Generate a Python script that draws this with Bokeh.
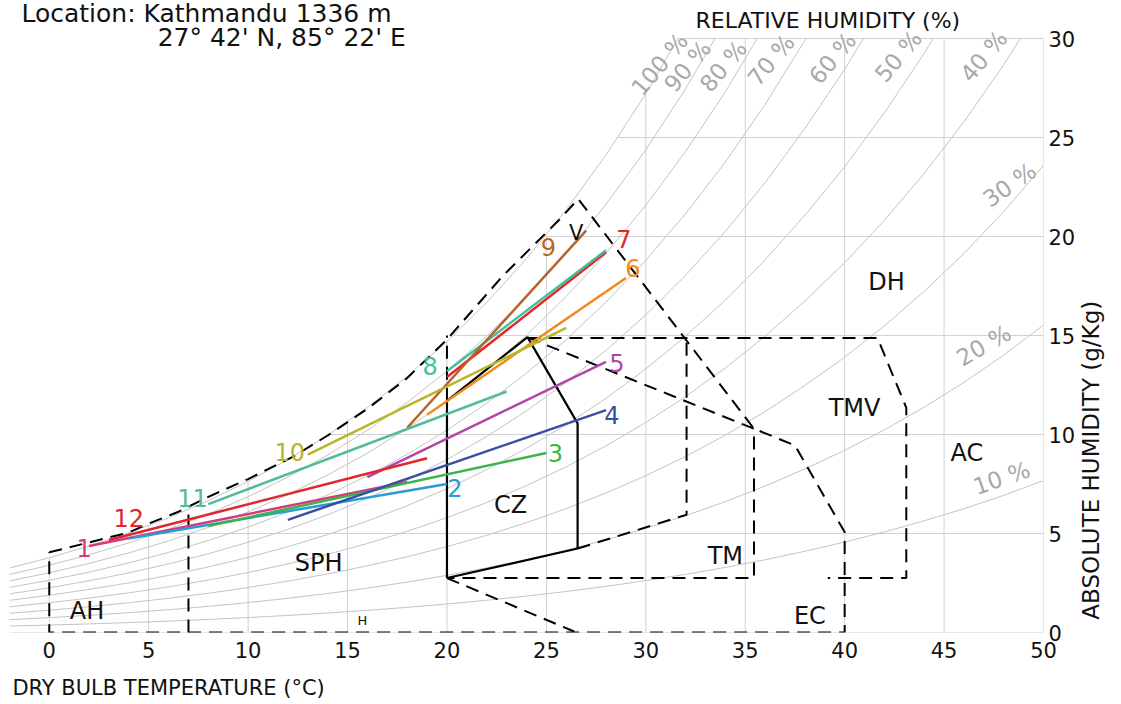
import math
import numpy as np
from bokeh.plotting import figure
from bokeh.models import Range1d, FixedTicker, Label, LinearAxis
from bokeh.embed import file_html
from bokeh.resources import INLINE

FONT = "DejaVu Sans"

# ---------------- data ----------------
# saturation vapour pressure table (kPa) used for the relative humidity curves
SAT_T = [-2, 0, 2, 4, 6, 8, 10, 12, 14, 16, 18, 20, 22, 24, 26, 28, 30, 32, 34,
         36, 38, 40, 42, 44, 46, 48, 50]
SAT_P_KPA = [0.5277, 0.6113, 0.7060, 0.8135, 0.9353, 1.0729, 1.2281, 1.4027,
             1.5989, 1.8187, 2.0647, 2.3392, 2.6452, 2.9856, 3.3637, 3.7828,
             4.2467, 4.7598, 5.3265, 5.9515, 6.6399, 7.3837, 8.2054, 9.1030,
             10.086, 11.162, 12.344]
PRESSURE_KPA = 101.325
RH_LEVELS = [10, 20, 30, 40, 50, 60, 70, 80, 90, 100]

# RH curve labels: text, x, y, angle (deg)
RH_LABEL_TEXT = ["100 %", "90 %", "80 %", "70 %", "60 %", "50 %", "40 %", "30 %", "20 %", "10 %"]
RH_LABEL_X = [30.7, 32.1, 33.9, 36.3, 39.4, 42.7, 47.0, 48.3, 47.0, 47.9]
RH_LABEL_Y = [28.7, 28.6, 28.6, 28.9, 29.0, 29.1, 29.1, 22.6, 14.5, 7.8]
RH_LABEL_ANGLE = [50, 50, 50, 50, 50, 50, 50, 35, 30, 19]

# monthly lines (Tmin, w) -> (Tmax, w)
MONTHS = ["1", "2", "3", "4", "5", "6", "7", "8", "9", "10", "11", "12"]
T_MIN = [2, 4, 8, 12, 16, 19, 20, 20, 18, 13, 8, 3]
W_TMIN = [4.37, 4.75, 5.38, 5.69, 7.85, 11.0, 12.9, 13.2, 10.34, 8.98, 6.48, 4.67]
T_MAX = [18, 20, 25, 28, 28, 29, 28, 28, 27, 26, 23, 19]
W_TMAX = [7.6, 7.5, 9.07, 11.23, 13.67, 17.9, 19.2, 19.3, 20.3, 15.38, 12.17, 8.8]
MONTH_COLORS = ["#d63a7a", "#2b9bd8", "#3cb44b", "#3a4fa3", "#b146a8", "#f08a1c",
                "#e5262b", "#45bf9b", "#b5652a", "#b7b52a", "#52bb9c", "#e0262e"]
MONTH_LABEL_X = [1.75, 20.4, 25.45, 28.3, 28.55, 29.35, 28.9, 19.15, 25.1, 12.1, 7.2, 4.0]
MONTH_LABEL_Y = [4.25, 7.3, 9.05, 11.0, 13.6, 18.4, 19.85, 13.45, 19.45, 9.1, 6.8, 5.8]

# zone boundaries
ENV_T = [0, 2, 4, 5, 6.5, 8, 10, 12.3, 14, 16, 18, 20, 22.8, 25.7, 26.6, 35.44,
         37.5, 40, 40, 0, 0]
ENV_W = [4.05, 4.55, 5.05, 5.5, 6.1, 6.85, 7.75, 8.9, 9.95, 11.3, 12.85, 14.8,
         18.0, 20.9, 21.9, 10.29, 9.45, 5.07, 0, 0, 4.05]
AH_T = [7.0, 7.0]
AH_W = [0, 6.35]
DIAG_T = [20, 26.4]
DIAG_W = [2.75, 0.05]
V20_T = [20, 20]
V20_W = [11.7, 15.0]
TM_T = [24.05, 35.44, 35.44, 20]
TM_W = [14.9, 10.29, 2.75, 2.75]
TMV_T = [24.05, 41.65, 43.1, 43.1, 39.15]
TMV_W = [14.88, 14.88, 11.35, 2.75, 2.75]
NV_T = [26.57, 32.05, 32.05]
NV_W = [4.24, 5.95, 14.9]
CZ_T = [20, 20, 24.05, 26.57, 26.57, 20]
CZ_W = [2.75, 11.7, 14.92, 10.56, 4.24, 2.75]

ZONE_TEXT = ["AH", "SPH", "CZ", "TM", "EC", "TMV", "AC", "DH"]
ZONE_X = [1.9, 13.55, 23.2, 34.0, 38.25, 40.5, 46.15, 42.1]
ZONE_Y = [1.1, 3.5, 6.45, 3.85, 0.85, 11.35, 9.05, 17.7]

X_TICKS = [0, 5, 10, 15, 20, 25, 30, 35, 40, 45, 50]
Y_TICKS = [0, 5, 10, 15, 20, 25, 30]
Y_MAX = 30

X_TITLE = "DRY BULB TEMPERATURE (°C)"
Y_TITLE = "ABSOLUTE HUMIDITY (g/Kg)"
X_TITLE_AT = 6      # centre of the x title, in °C
Y_TITLE_AT = 0.65   # start of the y title, in g/kg

# ---------------- figure ----------------
W_PX, H_PX = 1121, 702
FRAME_RIGHT = 1043
FRAME_BOTTOM = 632
PX_PER_UNIT = (FRAME_BOTTOM - 38) / Y_MAX          # 30 g/kg sits 38 px below the top
y_top = Y_MAX + 38 / PX_PER_UNIT                    # frame reaches the top of the canvas

p = figure(width=W_PX, height=H_PX, x_range=Range1d(-2, 50), y_range=Range1d(0, y_top),
           output_backend="svg", toolbar_location=None, y_axis_location="right",
           min_border_left=9, min_border_right=W_PX - FRAME_RIGHT, min_border_top=0,
           min_border_bottom=H_PX - FRAME_BOTTOM)
p.xgrid.visible = False
p.ygrid.visible = False
p.outline_line_color = None
p.background_fill_color = "white"


def style_axis(ax, size, standoff):
    ax.axis_line_color = None
    ax.major_tick_line_color = None
    ax.minor_tick_line_color = None
    ax.major_tick_out = 0
    ax.major_tick_in = 0
    ax.minor_tick_out = 0
    ax.minor_tick_in = 0
    ax.major_label_text_font = FONT
    ax.major_label_text_font_size = size
    ax.major_label_text_color = "#111111"
    ax.major_label_standoff = standoff


for ax in p.xaxis:
    ax.ticker = FixedTicker(ticks=X_TICKS)
    style_axis(ax, "21px", 9)
for ax in p.yaxis:
    ax.ticker = FixedTicker(ticks=Y_TICKS)
    style_axis(ax, "21px", 5)

# axis titles placed as single labelled ticks of extra axes (kept outside the frame)
x_title_axis = LinearAxis(ticker=FixedTicker(ticks=[X_TITLE_AT]),
                          major_label_overrides={X_TITLE_AT: X_TITLE, str(X_TITLE_AT): X_TITLE})
style_axis(x_title_axis, "21px", 15)
p.add_layout(x_title_axis, "below")

y_title_axis = LinearAxis(ticker=FixedTicker(ticks=[Y_TITLE_AT]),
                          major_label_overrides={Y_TITLE_AT: Y_TITLE, str(Y_TITLE_AT): Y_TITLE},
                          major_label_orientation=math.pi / 2)
style_axis(y_title_axis, "23px", 13)
p.add_layout(y_title_axis, "right")

ps = np.array(SAT_P_KPA)
sat_w = 622.0 * ps / (PRESSURE_KPA - ps)

# grid lines clipped by the saturation curve
gx0, gy0, gx1, gy1 = [], [], [], []
for t in X_TICKS:
    top = min(Y_MAX, float(np.interp(t, SAT_T, sat_w)))
    gx0.append(t); gy0.append(0); gx1.append(t); gy1.append(top)
for w in Y_TICKS:
    start = -2.0 if w <= sat_w[0] else float(np.interp(w, sat_w, SAT_T))
    gx0.append(start); gy0.append(w); gx1.append(50); gy1.append(w)
p.segment(x0=gx0, y0=gy0, x1=gx1, y1=gy1, line_color="#d2d2d2", line_width=1)

# relative humidity curves, cut at the top of the chart
for rh in RH_LEVELS:
    phi = rh / 100.0
    w = 622.0 * phi * ps / (PRESSURE_KPA - phi * ps)
    keep = w <= Y_MAX
    xs = list(np.array(SAT_T)[keep])
    ys = list(w[keep])
    if not keep.all():
        xs.append(float(np.interp(Y_MAX, w, SAT_T)))
        ys.append(Y_MAX)
    p.line(xs, ys, line_color="#c4c4c4", line_width=1)

for txt, x, y, a in zip(RH_LABEL_TEXT, RH_LABEL_X, RH_LABEL_Y, RH_LABEL_ANGLE):
    p.add_layout(Label(x=x, y=y, text=txt, angle=a, angle_units="deg",
                       text_align="center", text_baseline="middle",
                       text_font=FONT, text_font_size="23px", text_color="#a8a8a8"))

# dashed zone boundaries
DASH = "13 8"
for xs, ys in [(ENV_T, ENV_W), (AH_T, AH_W), (DIAG_T, DIAG_W), (V20_T, V20_W),
               (TM_T, TM_W), (TMV_T, TMV_W), (NV_T, NV_W)]:
    p.line(xs, ys, line_color="black", line_width=2, line_dash=DASH)

# comfort zone
p.line(CZ_T, CZ_W, line_color="black", line_width=2.2)

# monthly lines
for i in range(len(MONTHS)):
    p.line([T_MIN[i], T_MAX[i]], [W_TMIN[i], W_TMAX[i]], line_color=MONTH_COLORS[i],
           line_width=2.5)
for i in range(len(MONTHS)):
    p.add_layout(Label(x=MONTH_LABEL_X[i], y=MONTH_LABEL_Y[i], text=MONTHS[i],
                       text_align="center", text_baseline="middle", text_font=FONT,
                       text_font_size="24px", text_color=MONTH_COLORS[i]))

# zone labels
for txt, x, y in zip(ZONE_TEXT, ZONE_X, ZONE_Y):
    p.add_layout(Label(x=x, y=y, text=txt, text_align="center", text_baseline="middle",
                       text_font=FONT, text_font_size="24px", text_color="#111111"))
p.add_layout(Label(x=15.75, y=0.6, text="H", text_align="center", text_baseline="middle",
                   text_font=FONT, text_font_size="13px", text_color="#111111"))
p.add_layout(Label(x=26.5, y=20.2, text="V", text_align="center", text_baseline="middle",
                   text_font=FONT, text_font_size="21px", text_color="#111111"))

# titles (inside the frame, which reaches the top of the canvas)
p.add_layout(Label(x=-1.4, y=31.28, text="Location: Kathmandu  1336 m", text_align="left",
                   text_baseline="alphabetic", text_font=FONT, text_font_size="25px",
                   text_color="#111111"))
p.add_layout(Label(x=5.45, y=30.05, text="27° 42' N, 85° 22' E", text_align="left",
                   text_baseline="alphabetic", text_font=FONT, text_font_size="25px",
                   text_color="#111111"))
p.add_layout(Label(x=32.5, y=30.9, text="RELATIVE HUMIDITY (%)", text_align="left",
                   text_baseline="middle", text_font=FONT, text_font_size="22px",
                   text_color="#111111"))

open("out.html", "w").write(file_html(p, INLINE))
